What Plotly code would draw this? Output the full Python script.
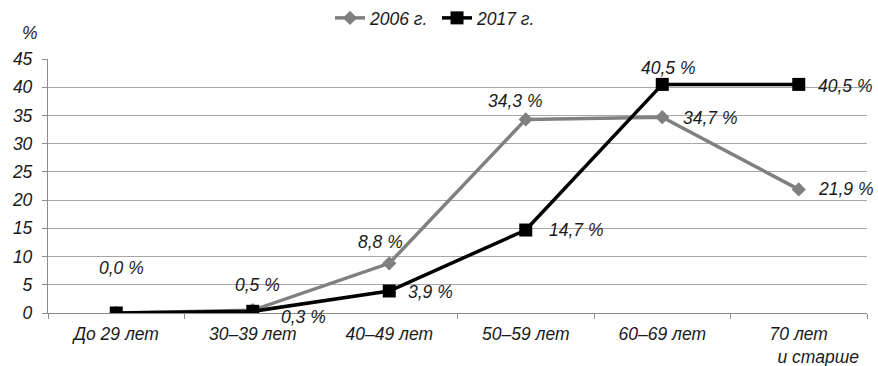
import plotly.graph_objects as go

categories = ["До 29 лет", "30–39 лет", "40–49 лет", "50–59 лет", "60–69 лет", "70 лет и старше"]
tick_labels = ["До 29 лет", "30–39 лет", "40–49 лет", "50–59 лет", "60–69 лет",
               "70 лет<br>" + "\u00a0" * 8 + "и старше"]
values_2006 = [0.0, 0.5, 8.8, 34.3, 34.7, 21.9]
values_2017 = [0.0, 0.3, 3.9, 14.7, 40.5, 40.5]
labels_2006 = ["0,0 %", "0,5 %", "8,8 %", "34,3 %", "34,7 %", "21,9 %"]
labels_2017 = [None, "0,3 %", "3,9 %", "14,7 %", "40,5 %", "40,5 %"]
y_ticks = [0, 5, 10, 15, 20, 25, 30, 35, 40, 45]

# label offsets in pixels (dx, dy-down)
off_2006 = [(5, -45), (5, -25), (-9, -21), (-11, -18), (48, 1), (47, 0)]
off_2017 = [None, (51, 6), (41, 1), (50, 0), (6, -16), (46, 2)]

FONT = "Liberation Sans, Arial, sans-serif"
FS = 17.5
fig = go.Figure()
fig.add_trace(go.Scatter(
    x=categories, y=values_2006, name="2006 г.", mode="lines+markers",
    line=dict(color="#808080", width=3.5),
    marker=dict(symbol="diamond", size=11, color="#808080"),
))
fig.add_trace(go.Scatter(
    x=categories, y=values_2017, name="2017 г.", mode="lines+markers",
    line=dict(color="#000000", width=3.5),
    marker=dict(symbol="square", size=13, color="#000000"),
))

lab_font = dict(family=FONT, size=FS, color="#1a1a1a", style="italic")
anns = []
for cat, v, lab, off in zip(categories, values_2006, labels_2006, off_2006):
    anns.append(dict(x=cat, y=v, text=lab, showarrow=False, xshift=off[0], yshift=-off[1],
                     xanchor="center", yanchor="middle", font=lab_font))
for cat, v, lab, off in zip(categories, values_2017, labels_2017, off_2017):
    if lab is None:
        continue
    anns.append(dict(x=cat, y=v, text=lab, showarrow=False, xshift=off[0], yshift=-off[1],
                     xanchor="center", yanchor="middle", font=lab_font))
anns.append(dict(xref="paper", yref="paper", x=-0.022, y=1.102, text="%", showarrow=False,
                 xanchor="center", yanchor="middle", font=lab_font))

fig.update_layout(
    width=878, height=366,
    margin=dict(l=48, r=11, t=59, b=53, autoexpand=False),
    plot_bgcolor="white", paper_bgcolor="white",
    font=dict(family=FONT, size=FS, color="#1a1a1a"),
    showlegend=True,
    legend=dict(orientation="h", x=0.475, xanchor="center", yref="container", y=1.0, yanchor="top",
                font=lab_font, entrywidth=62, tracegroupgap=0),
    annotations=anns,
)
fig.update_xaxes(
    type="category", tickmode="array", tickvals=categories, ticktext=tick_labels,
    showgrid=False, showline=True, linecolor="#8c8c8c", linewidth=1.3,
    ticks="outside", tickson="boundaries", ticklen=5, tickcolor="#8c8c8c",
    tickfont=lab_font, automargin=False, ticklabelstandoff=5, tickangle=0,
    range=[-0.5, 5.5], zeroline=False,
)
fig.update_yaxes(
    range=[0, 45], tickvals=y_ticks, showgrid=True, gridcolor="#a6a6a6", gridwidth=1,
    showline=True, linecolor="#8c8c8c", linewidth=1.3, ticks="outside", ticklen=5,
    tickcolor="#8c8c8c", zeroline=False, automargin=False, ticklabelstandoff=6,
    tickfont=lab_font,
)
fig.write_html("out.html", config={"displayModeBar": False},
               post_script="document.body.style.margin='0';")
